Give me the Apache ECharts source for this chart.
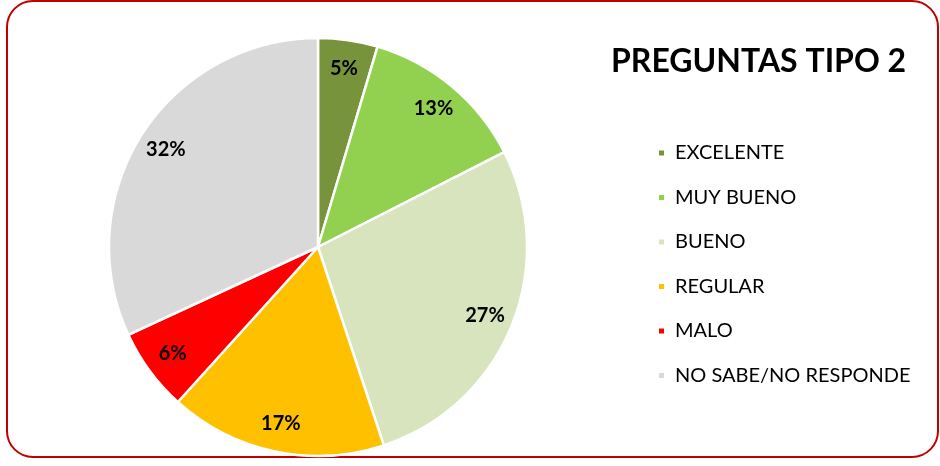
<!DOCTYPE html>
<html><head><meta charset="utf-8">
<script src="https://cdn.jsdelivr.net/npm/echarts@6/dist/echarts.min.js"></script>
<style>html,body{margin:0;padding:0;background:#fff}#c{width:940px;height:466px}</style>
</head><body><div id="c"></div>
<script>
const categories = ['EXCELENTE','MUY BUENO','BUENO','REGULAR','MALO','NO SABE/NO RESPONDE'];
const values = [4.6, 12.9, 27.4, 16.8, 6.4, 31.9];
const colors = ['#77933c','#92d050','#d7e4bd','#ffc000','#ff0000','#d9d9d9'];
const titleText = 'PREGUNTAS TIPO 2';

const FONT = 'Lato';
const data = categories.map((n,i)=>({name:n, value:values[i], itemStyle:{color:colors[i]}}));
const chart = echarts.init(document.getElementById('c'));
chart.setOption({
  animation:false,
  textStyle:{fontFamily:FONT},
  title:{text:titleText, left:611, top:46, padding:0, textStyle:{fontFamily:FONT, fontWeight:'bold', fontSize:32, color:'#000'}},
  legend:{orient:'vertical', left:657, top:143, padding:0, itemWidth:7, itemHeight:7, itemGap:24.5, icon:'rect',
    data:categories,
    textStyle:{fontFamily:FONT, fontSize:20, color:'#000', lineHeight:20, padding:[0,0,0,5]}},
  graphic:[{type:'rect', shape:{x:7,y:1,width:931,height:456,r:26}, style:{fill:'none', stroke:'#c00000', lineWidth:2}, silent:true}],
  series:[
    {type:'pie', center:[318,247], radius:[0,209], startAngle:90, clockwise:true, data:data,
     label:{show:false}, labelLine:{show:false},
     itemStyle:{borderColor:'#fff', borderWidth:2.5}, emphasis:{disabled:true}},
    {type:'pie', center:[318,247], radius:[146,209], startAngle:90, clockwise:true, percentPrecision:0,
     data:categories.map((n,i)=>({name:n, value:values[i]})),
     itemStyle:{color:'rgba(0,0,0,0)'}, silent:true, legendHoverLink:false,
     label:{show:true, position:'inside', formatter:'{d}%', fontFamily:FONT, fontWeight:'bold', fontSize:20, color:'#000'},
     labelLine:{show:false}, emphasis:{disabled:true}}
  ]
});
</script></body></html>
